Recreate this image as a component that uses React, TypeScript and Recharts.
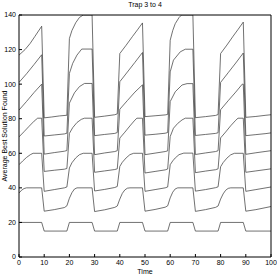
import { Line, LineChart, XAxis, YAxis } from 'recharts';

const xTicks = [0, 10, 20, 30, 40, 50, 60, 70, 80, 90, 100];
const yTicks = [0, 20, 40, 60, 80, 100, 120, 140];

// [time, average best] pairs, one array per curve
const best20 = [
  [0, 20], [9, 20], [10, 15], [19, 15], [20, 20], [29, 20], [30, 15], [39, 15],
  [40, 20], [49, 20], [50, 15], [59, 15], [60, 20], [69, 20], [70, 15], [79, 15],
  [80, 20], [89, 20], [90, 15], [100, 15],
];

const best40 = [
  [0, 37], [1, 38.6], [2, 39.6], [3, 40], [9, 40],
  [10, 26.5], [14, 27.4], [18, 28.6], [19, 29.6],
  [20, 34], [21, 37.2], [22, 39.3], [23, 40], [29, 40],
  [30, 26.3], [34, 27.3], [38, 28.7], [39, 29.5],
  [40, 33.5], [41, 36.8], [42, 38.8], [43, 39.8], [44, 40], [49, 40],
  [50, 26.5], [54, 27.5], [58, 28.8], [59, 29.6],
  [60, 34.2], [61, 37.5], [62, 39.4], [63, 40], [69, 40],
  [70, 26.4], [74, 27.4], [78, 28.7], [79, 29.5],
  [80, 33.5], [81, 36.5], [82, 38.6], [83, 39.7], [84, 40], [89, 40],
  [90, 26.5], [94, 27.4], [98, 28.6], [100, 29.2],
];

const best60 = [
  [0, 53.4], [1.5, 55.6], [3, 57.6], [4.5, 59.2], [5.6, 60], [9, 60],
  [10, 38], [14, 39], [18, 40], [19, 40.5],
  [20, 51.5], [21, 54.5], [22.5, 57.3], [24, 59.2], [25.5, 60], [29, 60],
  [30, 38.2], [34, 39.1], [38, 40.2], [39, 40.8],
  [40, 52.4], [41, 54.8], [42.5, 57.3], [44, 59.2], [45.5, 60], [49, 60],
  [50, 38], [54, 39], [58, 40], [59, 40.5],
  [60, 53.4], [61, 55.6], [62, 57.3], [63.5, 59.2], [65.4, 60.1], [69, 60.1],
  [70, 38.1], [74, 39], [78, 40.1], [79, 40.6],
  [80, 52.2], [81, 54.6], [82.5, 57.2], [84, 59.1], [85.5, 60], [89, 60],
  [90, 38], [94, 39], [98, 40], [100, 40.5],
];

const best80 = [
  [0, 69.5], [2, 72.5], [4, 75.6], [6, 78.6], [7.4, 80.3], [9, 80.3],
  [10, 49.5], [14, 50.2], [18, 50.8], [19, 51.2],
  [20, 71.5], [21.3, 74.8], [23, 77.8], [24.7, 79.6], [26, 80.3], [29, 80.3],
  [30, 49], [34, 49.8], [38, 50.6], [39, 51],
  [40, 68.8], [42, 72.2], [44, 75.8], [46, 79.2], [46.8, 80.3], [49, 80.3],
  [50, 48.6], [54, 49.5], [58, 50.4], [59, 50.9],
  [60, 69.7], [61.3, 74.5], [63, 77.3], [64.7, 79.3], [66, 80.3], [69, 80.3],
  [70, 48.8], [74, 49.7], [78, 50.5], [79, 51],
  [80, 68.9], [82, 72.3], [84, 75.9], [86, 79.1], [86.9, 80.3], [89, 80.3],
  [90, 49], [94, 49.8], [98, 50.6], [100, 51],
];

const best100 = [
  [0, 85], [3, 90], [6, 95.2], [9, 100],
  [10, 59.5], [14, 60.4], [18, 61.2], [19, 61.6],
  [20, 89], [22, 95], [24, 98.6], [26, 100.4], [29, 100.4],
  [30, 59.2], [34, 60.2], [38, 61], [39, 61.5],
  [40, 85.5], [43, 90.5], [46, 95.4], [49, 99.6],
  [50, 59.2], [54, 60.1], [58, 61], [59, 61.4],
  [60, 89.9], [62, 95.6], [64.7, 99.5], [66.7, 100.3], [69, 100.3],
  [70, 59.3], [74, 60.2], [78, 61], [79, 61.5],
  [80, 85.2], [83, 90.4], [86, 95.4], [88.6, 100], [89, 100],
  [90, 59.4], [94, 60.3], [98, 61.1], [100, 61.5],
];

const best120 = [
  [0, 101], [3, 106], [6, 111.4], [9, 117],
  [10, 70], [14, 70.6], [18, 71.2], [19, 71.6],
  [20, 106.2], [21.3, 112], [23, 116.8], [24.9, 120.3], [29, 120.3],
  [30, 70.2], [34, 70.9], [38, 71.5], [39, 72],
  [40, 101.4], [43, 107], [46, 112.6], [49, 118.3],
  [50, 70.5], [54, 71], [58, 71.6], [59, 72],
  [60, 107.1], [61.3, 113.9], [64, 118.7], [66, 120.2], [69, 120.2],
  [70, 70.3], [74, 70.9], [78, 71.5], [79, 71.9],
  [80, 101], [83, 106.6], [86, 112.2], [89, 118],
  [90, 70.2], [94, 70.8], [98, 71.4], [100, 71.8],
];

const best140 = [
  [0, 116.8], [2.4, 120], [4.4, 123.5], [6.3, 127.6], [9, 133.5],
  [10, 80.5], [13, 81], [16, 81.6], [19, 82],
  [20, 126.4], [21, 131], [22.5, 135.5], [24, 138.6], [25.5, 140], [29, 140],
  [30, 80.8], [34, 81.5], [38, 82.3], [39, 82.8],
  [40, 117.7], [42.5, 122.5], [45, 127.5], [47, 131.4], [49, 135.4],
  [50, 81.2], [54, 81.7], [58, 82.2], [59, 82.5],
  [60, 125.4], [61, 131], [62, 135], [63.5, 138.5], [64.5, 140], [69, 140],
  [70, 80.6], [74, 81.2], [78, 81.9], [79, 82.4],
  [80, 117.7], [82.5, 122.6], [85, 127.8], [87, 131.8], [89, 135.9],
  [90, 80.8], [94, 81.3], [98, 82], [100, 82.3],
];

const curves = [best20, best40, best60, best80, best100, best120, best140];

const toPoints = (rows: number[][]) => rows.map(([t, v]) => ({ t, v }));

const labelFont = '"Liberation Sans", Arial, sans-serif';
const tickStyle = { fontSize: 7, fill: '#000', fontFamily: labelFont };

export default function App() {
  return (
    <div
      style={{
        position: 'absolute',
        left: 0,
        top: 0,
        width: 277,
        height: 277,
        background: '#fff',
        fontFamily: labelFont,
      }}
    >
      <LineChart width={277} height={277} margin={{ top: 0, right: 0, bottom: 0, left: 0 }}>
        <XAxis
          xAxisId='bottom'
          type='number'
          dataKey='t'
          domain={[0, 100]}
          ticks={xTicks}
          height={20}
          tickSize={-3}
          tickMargin={6}
          stroke='#000'
          tick={tickStyle}
          allowDataOverflow
        />
        <XAxis
          xAxisId='top'
          orientation='top'
          type='number'
          dataKey='t'
          domain={[0, 100]}
          ticks={xTicks}
          height={15}
          tickSize={-3}
          stroke='#000'
          tick={false}
        />
        <YAxis
          yAxisId='left'
          type='number'
          domain={[0, 140]}
          ticks={yTicks}
          width={19}
          tickSize={-3}
          tickMargin={6}
          stroke='#000'
          tick={tickStyle}
          allowDataOverflow
        />
        <YAxis
          yAxisId='right'
          orientation='right'
          type='number'
          domain={[0, 140]}
          ticks={yTicks}
          width={6}
          tickSize={-3}
          stroke='#000'
          tick={false}
        />
        {curves.map((rows, i) => (
          <Line
            key={i}
            xAxisId='bottom'
            yAxisId='left'
            data={toPoints(rows)}
            dataKey='v'
            type='linear'
            stroke='#333'
            strokeWidth={0.7}
            dot={false}
            activeDot={false}
            isAnimationActive={false}
          />
        ))}
      </LineChart>
      <div
        style={{
          position: 'absolute',
          left: 0,
          width: 290,
          top: 1,
          textAlign: 'center',
          fontSize: 7,
          lineHeight: '8px',
        }}
      >
        Trap 3 to 4
      </div>
      <div
        style={{
          position: 'absolute',
          left: 0,
          width: 290,
          top: 268,
          textAlign: 'center',
          fontSize: 7,
          lineHeight: '8px',
        }}
      >
        Time
      </div>
      <div
        style={{
          position: 'absolute',
          left: 5 - 60,
          top: 136 - 4,
          width: 120,
          textAlign: 'center',
          fontSize: 7,
          lineHeight: '8px',
          transform: 'rotate(-90deg)',
        }}
      >
        Average Best Solution Found
      </div>
    </div>
  );
}
